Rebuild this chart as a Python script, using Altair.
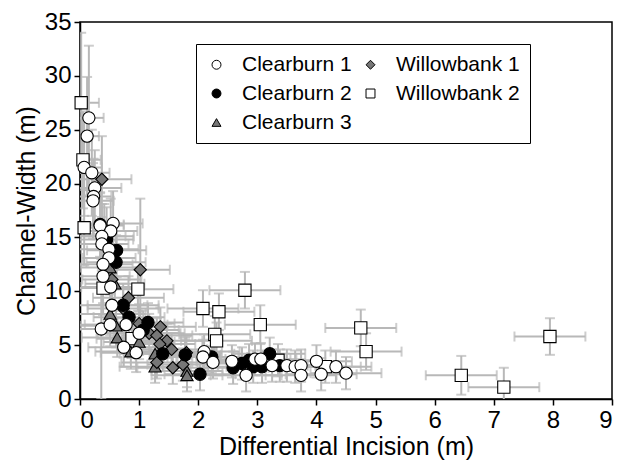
import altair as alt
import pandas as pd

# ---- data ----
series_order = ["Clearburn 1", "Clearburn 2", "Clearburn 3", "Willowbank 1", "Willowbank 2"]

cb1_x = [0.15, 0.12, 0.07, 0.20, 0.25, 0.23, 0.22, 0.34, 0.56, 0.52, 0.37, 0.37, 0.49, 0.49, 0.39, 0.39, 0.52, 0.54,
         0.36, 0.51, 0.78, 1.00, 0.74, 0.95, 2.10, 2.08, 2.25, 2.57, 2.81, 2.96, 3.06, 3.25, 3.50, 3.64, 3.74, 3.74,
         4.00, 4.08, 4.33, 4.50]
cb1_y = [26.1, 24.4, 21.5, 21.0, 19.6, 18.8, 18.4, 16.1, 16.3, 15.6, 15.1, 14.4, 13.9, 13.1, 12.5, 11.4, 10.4, 8.7,
         6.5, 6.9, 6.9, 6.1, 4.8, 4.3, 4.4, 3.9, 3.4, 3.5, 2.2, 3.7, 3.7, 3.1, 3.1, 3.0, 3.1, 2.2,
         3.5, 2.3, 3.0, 2.4]
cb1_xe = [0.25, 0.2, 0.3, 0.3, 0.45, 0.3, 0.35, 0.4, 0.5, 0.45, 0.4, 0.45, 0.5, 0.45, 0.5, 0.45, 0.5, 0.6,
          0.7, 0.6, 0.7, 0.7, 0.6, 0.6, 0.6, 0.6, 0.6, 0.6, 0.6, 0.6, 0.6, 0.6, 0.6, 0.6, 0.6, 0.6,
          0.6, 0.6, 0.6, 0.6]
cb1_ye = [6.7, 5.5, 4.5, 4.0, 3.5, 3.5, 3.5, 3.0, 3.0, 3.0, 3.0, 2.5, 2.5, 2.5, 2.5, 2.5, 2.0, 2.0,
          6.5, 2.0, 2.0, 2.0, 1.8, 1.8, 1.6, 1.6, 1.5, 1.5, 1.5, 1.5, 1.5, 1.5, 1.5, 1.5, 1.5, 1.5,
          1.5, 1.5, 1.5, 1.5]

cb2_x = [0.34, 0.45, 0.62, 0.61, 0.73, 0.83, 1.15, 1.07, 1.40, 1.78, 2.03, 2.23, 2.59, 2.74, 2.86, 2.93, 3.08,
         3.21, 3.38]
cb2_y = [16.2, 14.8, 13.8, 12.7, 8.7, 7.6, 7.1, 6.4, 4.2, 4.1, 2.3, 3.9, 2.9, 3.3, 3.6, 3.0, 3.0, 4.2, 3.1]
cb2_xe = [0.4, 0.45, 0.5, 0.5, 0.6, 0.6, 0.6, 0.6, 0.6, 0.6, 0.6, 0.6, 0.6, 0.6, 0.6, 0.6, 0.6, 0.6, 0.6]
cb2_ye = [3.0, 3.0, 2.5, 2.5, 2.0, 2.0, 1.8, 1.8, 1.6, 1.6, 1.5, 1.5, 1.5, 1.5, 1.5, 1.5, 1.5, 1.5, 1.5]

cb3_x = [0.51, 0.59, 0.51, 0.61, 0.63, 0.86, 1.00, 1.27, 1.27, 1.81, 1.81]
cb3_y = [12.2, 10.7, 7.9, 6.8, 5.7, 4.4, 5.3, 4.2, 3.0, 2.6, 2.2]
cb3_xe = [0.5, 0.5, 0.6, 0.6, 0.6, 0.6, 0.6, 0.6, 0.6, 0.6, 0.6]
cb3_ye = [2.5, 2.5, 2.0, 2.0, 1.8, 1.6, 1.6, 1.6, 1.5, 1.5, 1.5]

wb1_x = [0.37, 0.41, 0.54, 1.02, 0.82, 0.73, 1.00, 1.17, 1.36, 1.30, 1.47, 1.35, 1.55, 1.80, 1.78, 1.57, 1.74, 1.30]
wb1_y = [20.4, 15.1, 11.1, 12.0, 9.4, 8.4, 7.0, 6.1, 6.7, 5.9, 5.4, 5.1, 4.6, 4.3, 4.0, 2.9, 3.2, 3.4]
wb1_xe = [0.5, 0.5, 0.5, 0.5, 0.6, 0.6, 0.6, 0.6, 0.6, 0.6, 0.6, 0.6, 0.6, 0.6, 0.6, 0.6, 0.6, 0.6]
wb1_ye = [4.0, 3.0, 2.5, 6.6, 2.0, 2.0, 1.8, 1.8, 1.8, 1.6, 1.6, 1.6, 1.5, 1.5, 1.5, 1.5, 1.5, 1.5]

wb2_x = [0.02, 0.05, 0.07, 0.39, 0.98, 0.88, 2.08, 2.35, 2.28, 2.31, 2.79, 3.05, 3.35, 4.15, 4.75, 4.84, 6.45,
         7.17, 7.95]
wb2_y = [27.5, 22.2, 15.9, 10.3, 10.2, 5.6, 8.4, 8.1, 6.0, 5.4, 10.1, 6.9, 3.6, 3.0, 6.6, 4.4, 2.2, 1.1, 5.8]
wb2_xe = [0.3, 0.3, 0.4, 0.5, 0.6, 0.6, 0.6, 0.6, 0.6, 0.6, 0.6, 0.6, 0.6, 0.6, 0.6, 0.6, 0.6, 0.6, 0.6]
wb2_ye = [6.5, 4.5, 3.5, 2.5, 2.0, 1.8, 1.7, 1.7, 1.7, 1.7, 1.7, 1.8, 1.5, 1.5, 1.7, 1.7, 1.8, 1.8, 1.7]

frames = []
for name, xs_, ys_, xe, ye in [
    ("Willowbank 2", wb2_x, wb2_y, wb2_xe, wb2_ye),
    ("Clearburn 3", cb3_x, cb3_y, cb3_xe, cb3_ye),
    ("Willowbank 1", wb1_x, wb1_y, wb1_xe, wb1_ye),
    ("Clearburn 2", cb2_x, cb2_y, cb2_xe, cb2_ye),
    ("Clearburn 1", cb1_x, cb1_y, cb1_xe, cb1_ye),
]:
    d = pd.DataFrame({"x": xs_, "y": ys_, "xe": xe, "ye": ye})
    d["series"] = name
    frames.append(d)
df = pd.concat(frames, ignore_index=True)
df["order"] = range(len(df))
df["xlo"] = df.x - df.xe
df["xhi"] = df.x + df.xe
df["ylo"] = df.y - df.ye
df["yhi"] = df.y + df.ye

GRAY = "#b8b8b8"
FONT = "Liberation Sans"

xs = alt.Scale(domain=[0, 9], nice=False)
ys = alt.Scale(domain=[0, 35], nice=False)

X = alt.X("x:Q", scale=xs, title="Differential Incision (m)",
          axis=alt.Axis(values=list(range(10)), format="d"))
Y = alt.Y("y:Q", scale=ys, title="Channel-Width (m)",
          axis=alt.Axis(values=list(range(0, 36, 5)), format="d"))

base = alt.Chart(df)

xrule = base.mark_rule(color=GRAY, strokeWidth=2, clip=True).encode(
    x=alt.X("xlo:Q", scale=xs), x2="xhi:Q", y=alt.Y("y:Q", scale=ys))
yrule = base.mark_rule(color=GRAY, strokeWidth=2, clip=True).encode(
    x=alt.X("x:Q", scale=xs), y=alt.Y("ylo:Q", scale=ys), y2="yhi:Q")
cap_xlo = base.mark_tick(color=GRAY, orient="vertical", size=10, thickness=2, clip=True).encode(
    x=alt.X("xlo:Q", scale=xs), y=alt.Y("y:Q", scale=ys))
cap_xhi = base.mark_tick(color=GRAY, orient="vertical", size=10, thickness=2, clip=True).encode(
    x=alt.X("xhi:Q", scale=xs), y=alt.Y("y:Q", scale=ys))
cap_ylo = base.mark_tick(color=GRAY, orient="horizontal", size=10, thickness=2, clip=True).encode(
    x=alt.X("x:Q", scale=xs), y=alt.Y("ylo:Q", scale=ys))
cap_yhi = base.mark_tick(color=GRAY, orient="horizontal", size=10, thickness=2, clip=True).encode(
    x=alt.X("x:Q", scale=xs), y=alt.Y("yhi:Q", scale=ys))

legend = alt.Legend(title=None, orient="none", legendX=116, legendY=22, columns=2,
                    labelFontSize=21, labelFont=FONT, labelColor="black", symbolSize=80,
                    symbolStrokeWidth=1, labelOffset=15,
                    columnPadding=8, rowPadding=7, padding=10, strokeColor="black",
                    fillColor="white", labelLimit=400)

points = base.mark_point(filled=True, size=150, strokeWidth=1.1, opacity=1).encode(
    x=X, y=Y,
    shape=alt.Shape("series:N", scale=alt.Scale(domain=series_order,
                    range=["circle", "circle", "triangle-up", "diamond", "square"]), legend=legend),
    fill=alt.Fill("series:N", scale=alt.Scale(domain=series_order,
                  range=["white", "black", "#777777", "#777777", "white"]), legend=legend),
    stroke=alt.Stroke("series:N", scale=alt.Scale(domain=series_order,
                      range=["black"] * 5), legend=legend),
    order="order:Q",
)

chart = alt.layer(xrule, yrule, cap_xlo, cap_xhi, cap_ylo, cap_yhi, points).properties(
    width=532, height=377,
    autosize=alt.AutoSizeParams(type="none"),
    padding={"left": 72, "top": 14, "right": 8, "bottom": 61},
).configure_view(stroke="black", strokeWidth=1.5).configure_axis(
    grid=False, labelFont=FONT, titleFont=FONT, labelFontSize=24, titleFontSize=25,
    labelColor="black", titleColor="black", titleFontWeight="normal",
    domainColor="black", tickColor="black", tickSize=6, labelPadding=3, domainWidth=1.5, tickWidth=1.5,
).configure_axisX(titlePadding=2).configure_axisY(titlePadding=5)

chart.save("out.html", embed_options={"renderer": "svg", "actions": False})
